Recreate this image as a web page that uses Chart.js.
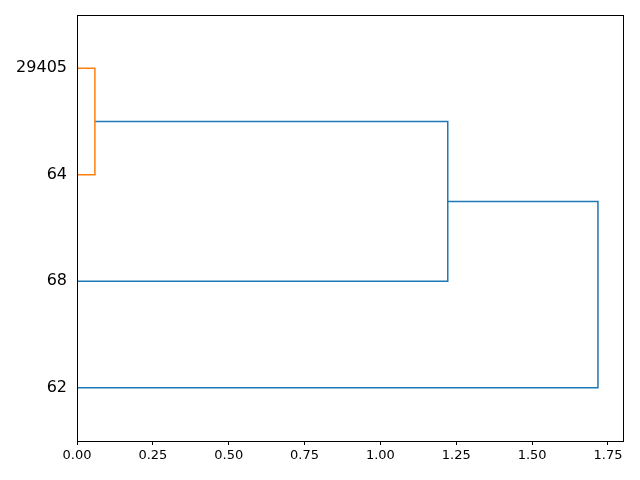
<!DOCTYPE html>
<html>
<head>
<meta charset="utf-8">
<script src="https://cdn.jsdelivr.net/npm/chart.js@4/dist/chart.umd.min.js"></script>
<style>
  html, body { margin: 0; padding: 0; background: #fff; }
</style>
</head>
<body>
<canvas id="dendro" width="640" height="480"></canvas>
<script>
// leaves, bottom to top
const leafLabels = ['62', '68', '64', '29405'];
// merges: [childA, childB] (0..3 = leaves, 4.. = earlier merges)
const merges = [[3, 2], [4, 1], [5, 0]];
const mergeHeights = [0.059, 1.222, 1.717];
const linkColors = ['#ff7f0e', '#1f77b4', '#1f77b4'];
const xTicks = [0, 0.25, 0.5, 0.75, 1.0, 1.25, 1.5, 1.75];

// leaf positions like scipy: 5, 15, 25, ...
const nodePos = leafLabels.map((_, i) => 5 + 10 * i);
const nodeHeight = leafLabels.map(() => 0);

const datasets = merges.map(([a, b], i) => {
    const h = mergeHeights[i];
    const pts = [
        { x: nodeHeight[a], y: nodePos[a] },
        { x: h, y: nodePos[a] },
        { x: h, y: nodePos[b] },
        { x: nodeHeight[b], y: nodePos[b] }
    ];
    nodePos.push((nodePos[a] + nodePos[b]) / 2);
    nodeHeight.push(h);
    return {
        data: pts,
        showLine: true,
        borderColor: linkColors[i],
        borderWidth: 1.5,
        pointRadius: 0,
        tension: 0,
        fill: false
    };
});

const xMax = Math.max(...mergeHeights) * 1.05;

const frame = {
    id: 'frame',
    afterDatasetsDraw(chart) {
        const { ctx, chartArea: a } = chart;
        ctx.save();
        ctx.strokeStyle = '#000';
        ctx.lineWidth = 1;
        ctx.strokeRect(Math.round(a.left) + 0.5, Math.round(a.top) + 0.5,
            Math.round(a.right - a.left) - 1, Math.round(a.bottom - a.top));
        ctx.restore();
    }
};

new Chart(document.getElementById('dendro').getContext('2d'), {
    type: 'scatter',
    data: { datasets },
    plugins: [frame],
    options: {
        responsive: false,
        animation: false,
        layout: { padding: { top: 15, right: 16, left: 0, bottom: 0 } },
        plugins: {
            legend: { display: false },
            tooltip: { enabled: false }
        },
        scales: {
            x: {
                type: 'linear',
                min: 0,
                max: xMax,
                afterBuildTicks: s => { s.ticks = xTicks.map(v => ({ value: v })); },
                afterFit: s => { s.height = 39; s.paddingLeft = 0; s.paddingRight = 0; },
                border: { display: false },
                grid: {
                    drawOnChartArea: false,
                    tickLength: 4,
                    tickColor: '#000',
                    tickWidth: 1
                },
                ticks: {
                    color: '#000',
                    padding: 3,
                    maxRotation: 0,
                    font: { family: 'DejaVu Sans', size: 13 },
                    callback: v => v.toFixed(2)
                }
            },
            y: {
                type: 'linear',
                min: 0,
                max: 10 * leafLabels.length,
                afterBuildTicks: s => { s.ticks = leafLabels.map((_, i) => ({ value: 5 + 10 * i })); },
                afterFit: s => { s.width = 77; s.paddingTop = 0; s.paddingBottom = 0; },
                border: { display: false },
                grid: { display: false, drawTicks: false },
                ticks: {
                    color: '#000',
                    padding: 10,
                    font: { family: 'DejaVu Sans', size: 16 },
                    callback: v => leafLabels[(v - 5) / 10]
                }
            }
        }
    }
});
</script>
</body>
</html>
